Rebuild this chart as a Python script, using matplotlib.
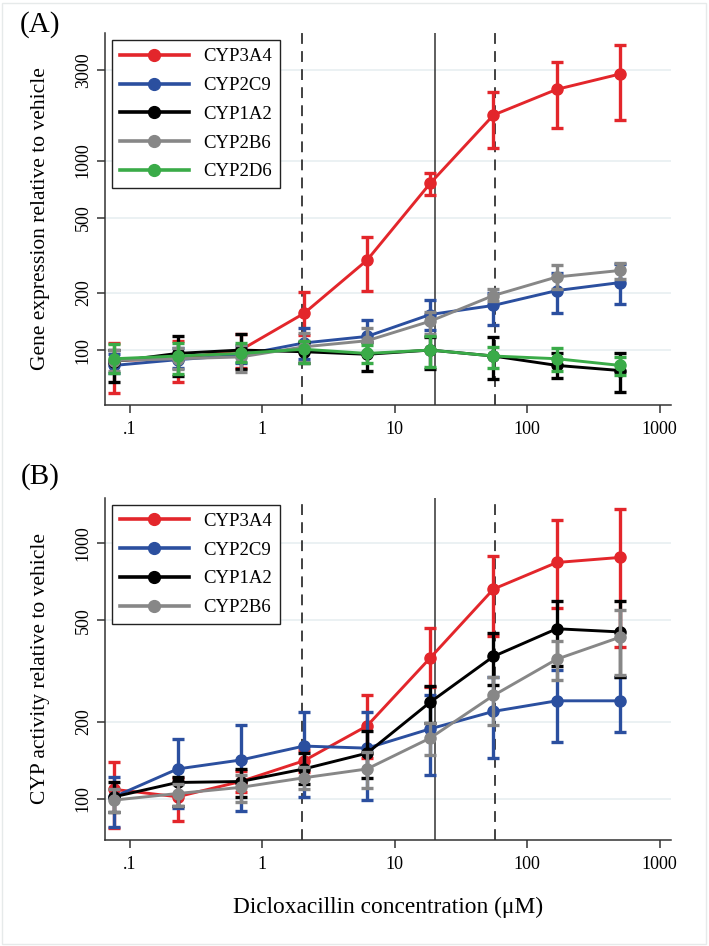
import numpy as np
import matplotlib
matplotlib.use("Agg")
import matplotlib.pyplot as plt
from matplotlib.lines import Line2D
from matplotlib.ticker import NullLocator

plt.rcParams['font.family'] = ['Liberation Serif', 'DejaVu Serif']

# concentrations (uM), 3-fold dilution series
conc = [0.0762, 0.229, 0.686, 2.06, 6.17, 18.5, 55.6, 167, 500]

# (A) gene expression relative to vehicle: mean, lower, upper
a_names = ['CYP3A4', 'CYP2C9', 'CYP1A2', 'CYP2B6', 'CYP2D6']
a_3a4 = [88, 90, 100, 156, 298, 758, 1738, 2375, 2860]
a_3a4_lo = [59, 68, 80, 120, 205, 657, 1168, 1490, 1636]
a_3a4_hi = [109, 112, 122, 203, 396, 855, 2307, 3298, 4066]
a_2c9 = [83, 89, 94, 109, 118, 154, 172, 206, 227]
a_2c9_lo = [76, 80, 85, 90, 96, 128, 136, 156, 176]
a_2c9_hi = [95, 102, 105, 130, 144, 184, 200, 254, 283]
a_1a2 = [87, 96, 100, 98, 95, 100, 93, 83, 78]
a_1a2_lo = [68, 73, 79, 85, 78, 79, 70, 71, 60]
a_1a2_hi = [100, 118, 122, 110, 110, 117, 117, 97, 97]
a_2b6 = [88, 90, 92, 104, 112, 142, 194, 243, 263]
a_2b6_lo = [78, 79, 77, 87, 98, 122, 182, 210, 238]
a_2b6_hi = [100, 102, 106, 123, 130, 159, 209, 281, 289]
a_2d6 = [90, 93, 96, 101, 96, 100, 93, 90, 83]
a_2d6_lo = [76, 75, 86, 85, 85, 81, 80, 78, 74]
a_2d6_hi = [107, 109, 109, 112, 106, 118, 104, 102, 92]

# (B) CYP activity relative to vehicle
b_names = ['CYP3A4', 'CYP2C9', 'CYP1A2', 'CYP2B6']
b_3a4 = [109, 102, 117, 141, 193, 356, 662, 841, 880]
b_3a4_lo = [77, 82, 106, 128, 145, 275, 433, 560, 392]
b_3a4_hi = [140, 121, 129, 155, 254, 466, 888, 1236, 1365]
b_2c9 = [102, 131, 142, 161, 158, 188, 220, 242, 242]
b_2c9_lo = [78, 92, 90, 102, 99, 124, 144, 167, 183]
b_2c9_hi = [122, 171, 195, 218, 219, 256, 300, 320, 301]
b_1a2 = [102, 116, 117, 131, 151, 239, 361, 463, 450]
b_1a2_lo = [89, 94, 102, 114, 121, 198, 280, 330, 301]
b_1a2_hi = [116, 122, 131, 151, 184, 276, 446, 594, 595]
b_2b6 = [99, 105, 111, 121, 131, 173, 254, 352, 429]
b_2b6_lo = [89, 94, 97, 109, 110, 149, 195, 293, 306]
b_2b6_hi = [109, 114, 124, 133, 152, 198, 300, 416, 546]

# reference concentrations
dash_x = [2.0, 57]
solid_x = [20]

xticks = [0.1, 1, 10, 100, 1000]
xticklabels = ['.1', '1', '10', '100', '1000']

colors = ['#e3262b', '#2b4f9f', '#000000', '#878787', '#3aab48']

W, H = 709, 946
fig = plt.figure(figsize=(W/100, H/100), dpi=100, facecolor='white')

def px_axes(left, top, right, bottom):
    return fig.add_axes([left/W, 1 - bottom/H, (right-left)/W, (bottom-top)/H])

def panel(ax, series, names, ylim, yticks, ylabel):
    ax.set_xscale('log')
    ax.set_yscale('log')
    ax.set_xlim(0.0649, 1217)
    ax.set_ylim(*ylim)
    for y in yticks:
        ax.axhline(y, color='#e5eef0', lw=1.1, zorder=0)
    for x in dash_x:
        ax.axvline(x, color='#333333', lw=1.3, ls=(0, (6, 4)), zorder=1)
    for x in solid_x:
        ax.axvline(x, color='#333333', lw=1.1, zorder=1)
    handles = []
    for k, (m, lo, hi) in enumerate(series):
        m = np.array(m, float)
        err = [m - np.array(lo), np.array(hi) - m]
        ax.errorbar(conc, m, yerr=err, color=colors[k], lw=2.1, marker='o',
                    ms=8, elinewidth=2.4, capsize=4.3, capthick=2.4,
                    zorder=2 + k)
        handles.append(Line2D([], [], color=colors[k], lw=2.6, marker='o',
                              ms=8.5, label=names[k]))
    ax.set_xticks(xticks)
    ax.set_xticklabels(xticklabels)
    ax.set_yticks(yticks)
    ax.set_yticklabels([str(v) for v in yticks], rotation=90, va='center')
    ax.xaxis.set_minor_locator(NullLocator())
    ax.yaxis.set_minor_locator(NullLocator())
    for s in ['top', 'right']:
        ax.spines[s].set_visible(False)
    for s in ['left', 'bottom']:
        ax.spines[s].set_color('#333333')
        ax.spines[s].set_linewidth(1.1)
    ax.tick_params(axis='both', direction='out', length=5.5, width=1.1,
                   color='#333333', labelsize=13)
    ax.tick_params(axis='y', pad=4)
    ax.tick_params(axis='x', pad=6)
    ax.set_ylabel(ylabel, fontsize=15.5)
    ax.yaxis.set_label_coords(-0.097, 0.5)
    leg = ax.legend(handles=handles, loc='upper left',
                    bbox_to_anchor=(0.012, 0.98), borderaxespad=0,
                    fontsize=13.5, handlelength=3.68, labelspacing=0.62,
                    borderpad=0.42, handletextpad=0.8,
                    fancybox=False, edgecolor='#222222', framealpha=1)
    leg.get_frame().set_linewidth(1.0)

ax1 = px_axes(105, 33, 671, 405)
panel(ax1,
      [(a_3a4, a_3a4_lo, a_3a4_hi), (a_2c9, a_2c9_lo, a_2c9_hi),
       (a_1a2, a_1a2_lo, a_1a2_hi), (a_2b6, a_2b6_lo, a_2b6_hi),
       (a_2d6, a_2d6_lo, a_2d6_hi)],
      a_names, (51.3, 4710), [100, 200, 500, 1000, 3000],
      'Gene expression relative to vehicle')

ax2 = px_axes(105, 498, 671, 840)
panel(ax2,
      [(b_3a4, b_3a4_lo, b_3a4_hi), (b_2c9, b_2c9_lo, b_2c9_hi),
       (b_1a2, b_1a2_lo, b_1a2_hi), (b_2b6, b_2b6_lo, b_2b6_hi)],
      b_names, (69.1, 1503), [100, 200, 500, 1000],
      'CYP activity relative to vehicle')
ax2.set_xlabel('Dicloxacillin concentration (\u03bcM)', fontsize=16.8)
ax2.xaxis.set_label_coords(0.5, -0.165)

fig.text(40/W, 1 - 25/H, '(A)', fontsize=21, ha='center', va='center')
fig.text(40/W, 1 - 477/H, '(B)', fontsize=21, ha='center', va='center')

# faint outer frame
fig.patches.append(plt.Rectangle((2/W, 2/H), 1 - 5/W, 1 - 5/H,
                                 transform=fig.transFigure, fill=False,
                                 edgecolor='#e6eaea', lw=1.0))

fig.savefig('out.png', dpi=100, facecolor='white')
